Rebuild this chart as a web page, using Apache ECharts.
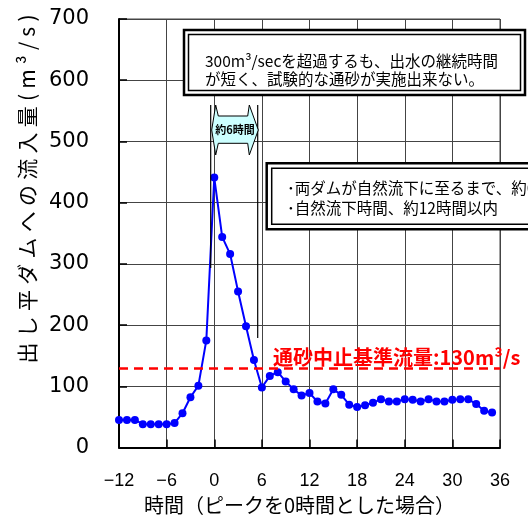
<!DOCTYPE html>
<html><head><meta charset="utf-8">
<script src="https://cdn.jsdelivr.net/npm/echarts@6/dist/echarts.min.js"></script>
<style>html,body{margin:0;padding:0;background:#fff}#c{width:528px;height:517px}</style>
</head><body><div id="c"></div>
<script>
// ---- data ----
const hours = [-12,-11,-10,-9,-8,-7,-6,-5,-4,-3,-2,-1,0,1,2,3,4,5,6,7,8,9,10,11,12,13,14,15,16,17,18,19,20,21,22,23,24,25,26,27,28,29,30,31,32,33,34,35];
const inflow = [45,45,45,38,38,38,38,40,56,82,101,175,441,344,316,255,198,143,98,117,123,108,95,85,89,75,72,95,86,70,66,69,73,79,75,75,79,78,75,79,75,75,78,79,79,71,60,57];
const xTickLabels = [-12,-6,0,6,12,18,24,30,36];
const yTickLabels = [0,100,200,300,400,500,600,700];
const thresholdValue = 130;
const thresholdLabel = '通砂中止基準流量:130m³/s';
const note1 = ['300m³/secを超過するも、出水の継続時間', 'が短く、試験的な通砂が実施出来ない。'];
const note2 = ['･両ダムが自然流下に至るまで、約6時間', '･自然流下時間、約12時間以内'];
const arrowLabel = '約6時間';
const xName = '時間（ピークを0時間とした場合）';
const yNameMain = '出し平ダムへの流入量';
const yNameUnit = ['(', 'm', '³', '/', 's', ')'];

const seriesData = hours.map((h, i) => [h, inflow[i]]);
const JP = '"Noto Sans CJK JP"';

const chart = echarts.init(document.getElementById('c'), null, {renderer: 'canvas'});
chart.setOption({
  animation: false,
  backgroundColor: '#fff',
  grid: {left: 119, right: 28, top: 19, bottom: 69.5, outerBoundsMode: 'none', containLabel: false,
    show: true, borderColor: '#444', borderWidth: 1, backgroundColor: 'transparent'},
  xAxis: {
    type: 'value', min: xTickLabels[0], max: xTickLabels[xTickLabels.length - 1], interval: 6,
    axisLine: {show: true, onZero: false, lineStyle: {color: '#000', width: 2}},
    axisTick: {show: true, inside: true, length: 8, lineStyle: {color: '#000', width: 1.5}},
    splitLine: {show: true, lineStyle: {color: '#444', width: 1}},
    axisLabel: {margin: 25, fontSize: 18, fontFamily: 'Liberation Sans', color: '#000',
      formatter: v => v < 0 ? '\u2212' + Math.abs(v) : String(v)},
    name: xName, nameLocation: 'middle', nameGap: 37,
    nameTextStyle: {fontSize: 20, fontFamily: JP, color: '#000', padding: [0, 20, 0, 0]}
  },
  yAxis: {
    type: 'value', min: yTickLabels[0], max: yTickLabels[yTickLabels.length - 1], interval: 100,
    axisLine: {show: true, onZero: false, lineStyle: {color: '#000', width: 2}},
    axisTick: {show: true, inside: true, length: 8, lineStyle: {color: '#000', width: 1.5}},
    splitLine: {show: true, lineStyle: {color: '#444', width: 1}},
    axisLabel: {margin: 30, fontSize: 21, fontFamily: 'DejaVu Sans', color: '#000'}
  },
  series: [{
    type: 'line', data: seriesData, color: '#0000FF',
    lineStyle: {color: '#0000FF', width: 2},
    symbol: 'circle', symbolSize: 8, showSymbol: true,
    itemStyle: {color: '#0000FF'}, clip: false, z: 3,
    markLine: {
      silent: true, symbol: 'none', label: {show: false},
      lineStyle: {color: '#FF0000', type: [9, 6], width: 2.5},
      data: [{yAxis: thresholdValue}]
    }
  }]
});

// annotations
const SP = '\u2005';
const yNameText = yNameMain.split('').join(SP) + SP + yNameUnit.join(SP);
const box = (ox, oy, w, h, inset, lines, tx, ty, lh) => {
  const ch = [
    {type: 'rect', shape: {x: ox, y: oy, width: w, height: h}, style: {fill: '#fff', stroke: '#000', lineWidth: 2.5}},
    {type: 'rect', shape: {x: ox + inset, y: oy + inset, width: w - 2 * inset, height: h - 2 * inset}, style: {fill: 'none', stroke: '#000', lineWidth: 1.5}}
  ];
  lines.forEach((t, i) => ch.push({type: 'text', x: tx, y: ty + i * lh,
    style: {text: t, font: '15.5px ' + JP, fill: '#000', verticalAlign: 'middle'}}));
  return {type: 'group', z: 50, children: ch};
};

chart.setOption({
  graphic: [
    {type: 'text', z: 50, x: 27, y: 189, rotation: Math.PI / 2,
      style: {text: yNameText, font: '21px ' + JP, fill: '#000', align: 'center', verticalAlign: 'middle'}},
    box(184, 30, 341, 65, 4.5, note1, 205, 61, 18.5),
    box(266.7, 163.3, 320, 66, 5, note2, 287, 188, 20),
    {type: 'line', z: 40, shape: {x1: 210.7, y1: 105, x2: 210.7, y2: 268}, style: {stroke: '#000', lineWidth: 1.2}},
    {type: 'line', z: 40, shape: {x1: 257.7, y1: 105, x2: 257.7, y2: 338}, style: {stroke: '#000', lineWidth: 1.2}},
    {type: 'polygon', z: 45, shape: {points: [[215.7,105],[218.3,116],[247.7,116],[249.3,105],[258.3,130],[249.3,155],[247.7,143.3],[218.3,143.3],[215.7,155],[211.7,130]]},
      style: {fill: '#CCFFFF', stroke: '#000', lineWidth: 1}},
    {type: 'text', z: 46, x: 235, y: 129.5,
      style: {text: arrowLabel, font: 'bold 11px ' + JP, fill: '#000', align: 'center', verticalAlign: 'middle'}},
    {type: 'text', z: 60, x: 273, y: 357,
      style: {text: thresholdLabel, font: 'bold 20px ' + JP, fill: '#FF0000', align: 'left', verticalAlign: 'middle'}}
  ]
});
</script></body></html>
